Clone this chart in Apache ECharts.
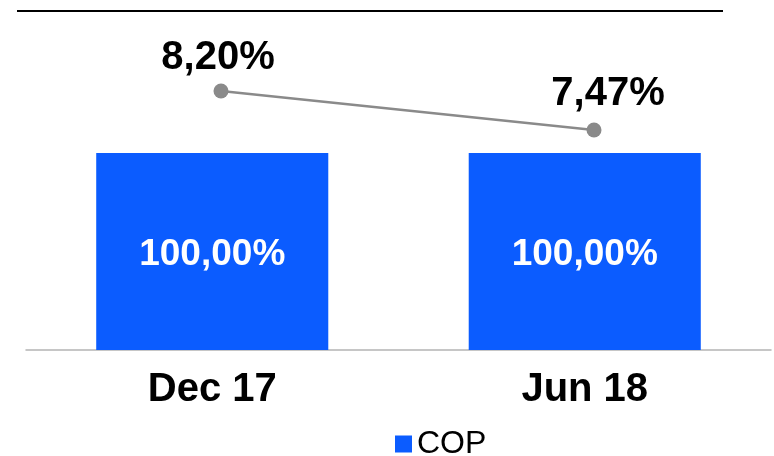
<!DOCTYPE html>
<html>
<head>
<meta charset="utf-8">
<script src="https://cdn.jsdelivr.net/npm/echarts@6/dist/echarts.min.js"></script>
<style>
html, body { margin: 0; padding: 0; background: #fff; }
#chart { width: 774px; height: 456px; }
</style>
</head>
<body>
<div id="chart"></div>
<script>
// 数据
var categories = ['Dec 17', 'Jun 18'];
var copValues = [100, 100];
var rateValues = [8.20, 7.47];

var FONT = 'Liberation Sans, Arial, sans-serif';

function pct(v){
	return v.toFixed(2).replace('.', ',') + '%';
}

var chart = echarts.init(document.getElementById('chart'));
var option = {
	animation: false,
	grid: [
		{ left: 26, right: 3, top: 21, bottom: 106 },
		// 折线点略微偏右, 两端对齐
		{ left: 221, right: 180, top: 21, bottom: 106 }
	],
	legend: {
		data: ['COP'],
		left: 390,
		top: 423,
		itemWidth: 17,
		itemHeight: 17,
		itemGap: 7,
		icon: 'rect',
		textStyle: {
			color: '#000',
			fontFamily: FONT,
			fontSize: 32,
			padding: [0, 0, 0, 0]
		}
	},
	xAxis: [
		{
			type: 'category',
			gridIndex: 0,
			data: categories,
			axisTick: { show: false },
			axisLine: {
				lineStyle: { color: '#b4b4b4', width: 1.5 }
			},
			axisLabel: {
				color: '#000',
				fontFamily: FONT,
				fontSize: 40,
				fontWeight: 'bold',
				margin: 20
			}
		},
		{
			type: 'category',
			gridIndex: 1,
			data: categories,
			boundaryGap: false,
			show: false
		}
	],
	yAxis: [
		{ type: 'value', gridIndex: 0, min: 0, max: 167, show: false, splitLine: { show: false } },
		{ type: 'value', gridIndex: 1, min: 3.35, max: 9.51, show: false, splitLine: { show: false } }
	],
	series: [
		{
			name: 'COP',
			type: 'bar',
			data: copValues,
			barWidth: '62.3%',
			itemStyle: { color: '#0B5CFF' },
			label: {
				show: true,
				position: 'inside',
				offset: [0, 3],
				color: '#fff',
				fontFamily: FONT,
				fontSize: 37,
				fontWeight: 'bold',
				formatter: function(p){ return pct(p.value); }
			}
		},
		{
			name: 'Rate',
			type: 'line',
			xAxisIndex: 1,
			yAxisIndex: 1,
			data: [
				{ value: rateValues[0], label: { offset: [-3, 0] } },
				{ value: rateValues[1], label: { offset: [14, -3] } }
			],
			symbol: 'circle',
			symbolSize: 15,
			lineStyle: { color: '#8a8a8a', width: 2.5 },
			itemStyle: { color: '#8a8a8a' },
			label: {
				show: true,
				position: 'top',
				distance: 5,
				color: '#000',
				fontFamily: FONT,
				fontSize: 40,
				fontWeight: 'bold',
				formatter: function(p){ return pct(p.value); }
			}
		}
	],
	graphic: [
		{
			type: 'line',
			shape: { x1: 17, y1: 11, x2: 723, y2: 11 },
			style: { stroke: '#000', lineWidth: 2 }
		}
	]
};
chart.setOption(option);
</script>
</body>
</html>
